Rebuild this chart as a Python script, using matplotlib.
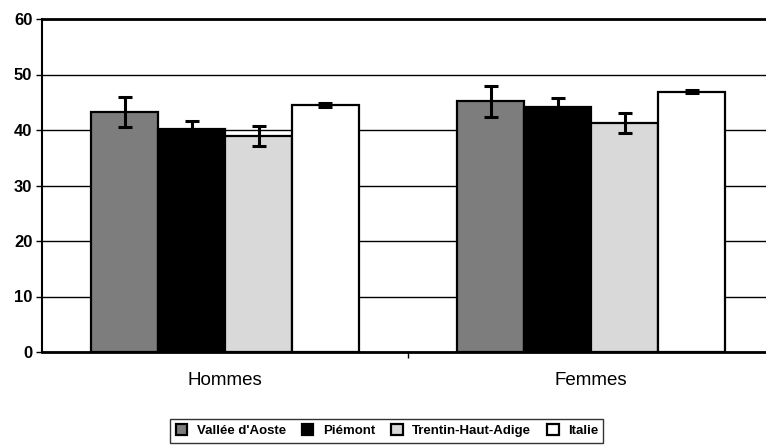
import numpy as np
import matplotlib
matplotlib.use("Agg")
import matplotlib.pyplot as plt

plt.rcParams['font.family'] = ['Liberation Sans', 'DejaVu Sans']

# data
groups = ["Hommes", "Femmes"]
regions = ["Vallée d'Aoste", "Piémont", "Trentin-Haut-Adige", "Italie"]
vallee = [43.3, 45.2]
vallee_err = [2.7, 2.8]
piemont = [40.2, 44.1]
piemont_err = [1.4, 1.6]
trentin = [38.9, 41.2]
trentin_err = [1.8, 1.8]
italie = [44.5, 46.9]
italie_err = [0.3, 0.3]

values = [vallee, piemont, trentin, italie]
errors = [vallee_err, piemont_err, trentin_err, italie_err]
colors = ["#7d7d7d", "#000000", "#d9d9d9", "#ffffff"]

fig = plt.figure(figsize=(7.66, 4.46), dpi=100)
ax = fig.add_axes([42 / 766, 94 / 446, 1 - 42 / 766, 333 / 446])

x = np.arange(len(groups))
width = 0.183
offsets = (np.arange(len(regions)) - 1.5) * width

for i, (vals, errs) in enumerate(zip(values, errors)):
    ax.bar(x + offsets[i], vals, width, color=colors[i], edgecolor="black",
           linewidth=1.6, label=regions[i], zorder=2)
    ax.errorbar(x + offsets[i], vals, yerr=errs, fmt="none", ecolor="black",
                elinewidth=2.2, capsize=5, capthick=2.2, zorder=3)

ax.set_ylim(0, 60)
ax.set_xlim(-0.5, 1.478)
ax.set_yticks(range(0, 61, 10))
ax.yaxis.grid(True, color="black", linewidth=1)
ax.set_axisbelow(True)

ax.set_xticks([0.5])
ax.set_xticklabels([""])
ax.tick_params(axis="x", length=4, width=1, direction="out")
ax.tick_params(axis="y", length=4, width=1, direction="out", pad=3)
for lbl in ax.get_yticklabels():
    lbl.set_fontsize(12)
    lbl.set_fontweight("bold")

for xi, g in zip(x, groups):
    ax.text(xi, -3.6, g, ha="center", va="top", fontsize=13.5)

ax.spines["right"].set_visible(False)
ax.spines["top"].set_linewidth(2)
ax.spines["left"].set_linewidth(1.5)
ax.spines["bottom"].set_linewidth(2)

leg = fig.legend(loc="center", bbox_to_anchor=(0.505, 0.034), ncol=4,
                 prop={"weight": "bold", "size": 9.5}, frameon=True, fancybox=False,
                 edgecolor="black", handlelength=0.9, handleheight=0.9,
                 handletextpad=0.7, columnspacing=1.2, borderpad=0.4)
leg.get_frame().set_linewidth(1)

fig.savefig("out.png", dpi=100)
